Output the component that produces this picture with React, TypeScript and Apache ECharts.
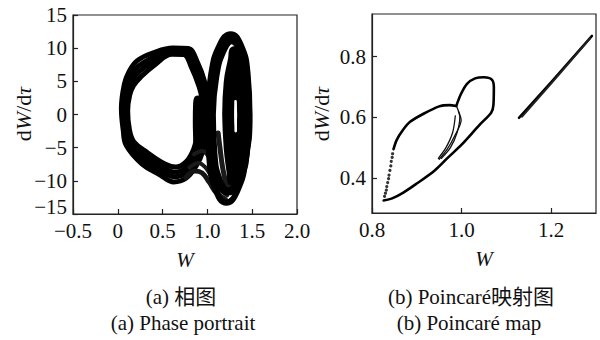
import React, { useEffect, useRef } from 'react';
import * as echarts from 'echarts';

// ---------- (a) Phase portrait: hand-read trajectory bands ----------
const leftTrack1 = [[1.004,2.0],[0.972,4.82],[0.89,7.82],[0.786,9.95],[0.616,10.03],[0.395,9.3],[0.217,8.12],[0.124,6.42],[0.073,4.55],[0.04,0.91],[0.06,-2.3],[0.094,-4.66],[0.268,-7.43],[0.474,-9.13],[0.625,-10.17],[0.76,-9.62],[0.873,-7.78],[0.95,-5.5],[1.0,-2],[1.004,2.0]];
const leftTrack2 = [[0.984,2.0],[0.95,4.6],[0.866,7.6],[0.768,9.64],[0.612,9.7],[0.402,8.68],[0.231,7.28],[0.142,5.72],[0.094,4.0],[0.064,0.8],[0.084,-2.3],[0.124,-4.48],[0.29,-6.86],[0.492,-8.56],[0.632,-9.4],[0.76,-8.78],[0.864,-6.9],[0.93,-4.5],[0.98,-1.2],[0.984,2.0]];
const leftTrack3 = [[0.966,2.0],[0.93,4.4],[0.844,7.4],[0.752,9.36],[0.608,9.4],[0.408,8.12],[0.244,6.52],[0.158,5.08],[0.112,3.5],[0.086,0.7],[0.106,-2.3],[0.151,-4.32],[0.31,-6.34],[0.508,-8.04],[0.638,-8.7],[0.76,-8.02],[0.856,-6.1],[0.91,-3.6],[0.955,-0.5],[0.966,2.0]];
const leftTrack4 = [[0.946,2.0],[0.908,4.18],[0.82,7.18],[0.734,9.05],[0.604,9.07],[0.415,7.5],[0.258,5.68],[0.176,4.38],[0.133,2.95],[0.11,0.59],[0.13,-2.3],[0.181,-4.14],[0.332,-5.77],[0.526,-7.47],[0.645,-7.93],[0.76,-7.18],[0.847,-5.22],[0.89,-2.8],[0.935,0],[0.946,2.0]];
const bumpTrack = [[0.87,-4],[0.865,-1],[0.868,1.5],[0.88,2.45],[0.9,2.5],[0.915,1.5],[0.92,-1],[0.92,-4]];
const fanTrack1 = [[0.76,-9.5],[0.86,-8.5],[0.94,-8.8],[1.02,-10.2],[1.1,-11.8],[1.2,-12.8]];
const fanTrack2 = [[0.8,-8],[0.9,-7.3],[0.98,-8],[1.05,-9.5],[1.13,-11.2],[1.22,-12.2]];
const fanTrack3 = [[0.85,-6],[0.94,-5.5],[1.02,-6.5],[1.09,-8.5],[1.16,-10.3],[1.24,-11.5]];
const fanTrack4 = [[1.12,-2.8],[1.14,-5],[1.17,-8],[1.21,-10.3],[1.26,-11.5]];

const ringA = [[1.0,0],[1.042,6.05],[1.138,10.48],[1.26,12.1],[1.373,10.48],[1.449,6.05],[1.47,0],[1.429,-6.65],[1.333,-11.52],[1.21,-13.3],[1.098,-11.52],[1.022,-6.65],[1.0,0]];
const ringB = [[1.05,0],[1.087,5.6],[1.172,9.7],[1.27,11.2],[1.369,9.7],[1.433,5.6],[1.455,0],[1.423,-5.8],[1.339,-10.05],[1.23,-11.6],[1.132,-10.05],[1.067,-5.8],[1.05,0]];
const ringC = [[1.215,0],[1.232,4.8],[1.28,8.31],[1.3,9.6],[1.39,8.31],[1.426,4.8],[1.44,0],[1.426,-5.05],[1.38,-8.75],[1.28,-10.1],[1.265,-8.75],[1.232,-5.05],[1.215,0]];
const ringD = [[1.225,0],[1.238,4.05],[1.28,7.01],[1.3,8.1],[1.375,7.01],[1.412,4.05],[1.425,0],[1.412,-4.35],[1.375,-7.53],[1.29,-8.7],[1.275,-7.53],[1.238,-4.35],[1.225,0]];
const ringE = [[1.235,0],[1.247,3.3],[1.284,5.72],[1.3,6.6],[1.366,5.72],[1.398,3.3],[1.41,0],[1.398,-3.65],[1.366,-6.32],[1.3,-7.3],[1.279,-6.32],[1.247,-3.65],[1.235,0]];
const ringF = [[1.245,0],[1.255,2.6],[1.288,4.5],[1.305,5.2],[1.3575,4.5],[1.385,2.6],[1.395,0],[1.385,-2.95],[1.3575,-5.11],[1.31,-5.9],[1.2825,-5.11],[1.255,-2.95],[1.245,0]];
const ringG2 = [[1.235,0],[1.246,1.95],[1.275,3.38],[1.315,3.9],[1.355,3.38],[1.384,1.95],[1.395,0],[1.384,-2.2],[1.355,-3.81],[1.315,-4.4],[1.275,-3.81],[1.246,-2.2],[1.235,0]];
const ringG = [[1.272,0],[1.278,1.4],[1.294,2.42],[1.316,2.8],[1.338,2.42],[1.354,1.4],[1.36,0],[1.354,-1.7],[1.338,-2.94],[1.316,-3.4],[1.294,-2.94],[1.278,-1.7],[1.272,0]];
const centreSlit = [[1.314,2.0],[1.316,-2.5]];

// ---------- (b) Poincaré map ----------
const poincareLower = [[0.826,0.326],[0.845,0.333],[0.87,0.352],[0.9,0.382],[0.94,0.425],[0.97,0.468],[1.0,0.51],[1.04,0.575],[1.066,0.615],[1.071,0.64],[1.072,0.7],[1.067,0.725],[1.05,0.732],[1.03,0.728],[1.012,0.71],[0.998,0.675],[0.99,0.645],[0.988,0.637]];
const poincareUpper = [[0.988,0.637],[0.973,0.64],[0.95,0.636],[0.913,0.61],[0.885,0.585],[0.869,0.558],[0.855,0.525],[0.848,0.495]];
const poincareStrand1 = [[0.99,0.632],[0.996,0.6],[0.99,0.55],[0.975,0.5],[0.955,0.465]];
const poincareStrand2 = [[0.993,0.62],[0.999,0.59],[0.985,0.54],[0.968,0.495],[0.95,0.462]];
const poincareStrand3 = [[0.986,0.605],[0.98,0.55],[0.965,0.5],[0.948,0.465]];
const poincareDots = [[0.846,0.48],[0.845,0.468],[0.843,0.455],[0.842,0.44],[0.84,0.425],[0.838,0.41],[0.837,0.398],[0.835,0.385],[0.833,0.372],[0.832,0.36],[0.83,0.35],[0.828,0.34]];
const poincareSegment1 = [[1.128,0.598],[1.2,0.716],[1.291,0.868]];
const poincareSegment2 = [[1.135,0.602],[1.21,0.728],[1.287,0.86]];

const phaseXTicks = [-0.5, 0, 0.5, 1.0, 1.5, 2.0];
const phaseYTicks = [-15, -10, -5, 0, 5, 10, 15];
const mapXTicks = [0.8, 1.0, 1.2];
const mapYTicks = [0.4, 0.6, 0.8];

const captionsTop = ['(a) 相图', '(b) Poincaré映射图'];
const captionsBottom = ['(a) Phase portrait', '(b) Poincaré map'];
const yAxisTitle = '{a|d}{b|W}{a|/d}{b|\u03c4}';

const serif = 'Liberation Serif, Noto Sans CJK SC, serif';
const ink = '#111';

const fmtDec = (v: number) => (v === 0 ? '0' : (v < 0 ? '\u2212' : '') + Math.abs(v).toFixed(1));
const fmtInt = (v: number) => (v < 0 ? '\u2212' : '') + Math.abs(v);

function lineS(data: number[][], width: number, xi: number, color = '#000', smooth: number = 0.4) {
  return {
    type: 'line', xAxisIndex: xi, yAxisIndex: xi, data, symbol: 'none', smooth,
    lineStyle: { color, width, cap: 'round', join: 'round' }, silent: true,
  };
}

export default function App() {
  const ref = useRef<HTMLDivElement>(null);
  useEffect(() => {
    if (!ref.current) return;
    const chart = echarts.init(ref.current, undefined, { renderer: 'svg' });
    const axisLine = { show: true, onZero: false, lineStyle: { color: '#222', width: 1.2 } };
    const tick = { inside: true, length: 5, lineStyle: { color: '#222', width: 1.2 } };
    const lbl = { fontFamily: serif, fontSize: 21, lineHeight: 14, color: ink };
    const nameRich = {
      a: { fontFamily: serif, fontSize: 22, color: ink },
      b: { fontFamily: serif, fontSize: 22, color: ink, fontStyle: 'italic' },
    };
    const capStyle = { font: `21px ${serif}`, fill: ink, align: 'center', textAlign: 'center', verticalAlign: 'middle', textVerticalAlign: 'middle' };
    const option: any = {
      animation: false,
      grid: [
        { left: 73, top: 15, width: 224, height: 199, show: true, borderColor: '#222', borderWidth: 1.2 },
        { left: 372, top: 14, width: 224, height: 199, show: true, borderColor: '#222', borderWidth: 1.2 },
      ],
      xAxis: [
        {
          gridIndex: 0, type: 'value', min: phaseXTicks[0], max: phaseXTicks[phaseXTicks.length - 1], interval: 0.5,
          axisLine, axisTick: tick, splitLine: { show: false },
          axisLabel: { ...lbl, margin: 10, formatter: fmtDec },
          name: 'W', nameLocation: 'middle', nameGap: 35,
          nameTextStyle: { fontFamily: serif, fontSize: 21, fontStyle: 'italic', color: ink },
        },
        {
          gridIndex: 1, type: 'value', min: 0.8, max: 1.3,
          axisLine, axisTick: { ...tick, customValues: mapXTicks }, splitLine: { show: false },
          axisLabel: { ...lbl, margin: 10, formatter: fmtDec, customValues: mapXTicks },
          name: 'W', nameLocation: 'middle', nameGap: 35,
          nameTextStyle: { fontFamily: serif, fontSize: 21, fontStyle: 'italic', color: ink },
        },
      ],
      yAxis: [
        {
          gridIndex: 0, type: 'value', min: phaseYTicks[0], max: phaseYTicks[phaseYTicks.length - 1], interval: 5,
          axisLine, axisTick: tick, splitLine: { show: false },
          axisLabel: { ...lbl, margin: 6, formatter: fmtInt, verticalAlignMinLabel: 'bottom' },
        },
        {
          gridIndex: 1, type: 'value', min: 0.285, max: 0.94,
          axisLine, axisTick: { ...tick, customValues: mapYTicks }, splitLine: { show: false },
          axisLabel: { ...lbl, margin: 6, formatter: (v: number) => v.toFixed(1), customValues: mapYTicks },
        },
      ],
      series: [
        lineS(leftTrack1, 5, 0), lineS(leftTrack2, 5, 0), lineS(leftTrack3, 5, 0), lineS(leftTrack4, 5, 0),
        lineS(bumpTrack, 5, 0),
        lineS(fanTrack1, 5, 0, '#151515'), lineS(fanTrack2, 4, 0, '#1a1a1a'),
        lineS(fanTrack3, 4, 0, '#1a1a1a'), lineS(fanTrack4, 5, 0, '#1a1a1a'),
        lineS(ringA, 6, 0, '#000', 0.5), lineS(ringB, 8, 0, '#000', 0.5), lineS(ringC, 9, 0, '#000', 0.5),
        lineS(ringD, 9, 0, '#000', 0.5), lineS(ringE, 9, 0, '#000', 0.5), lineS(ringF, 9, 0, '#000', 0.5),
        lineS(ringG2, 8, 0, '#000', 0.5), lineS(ringG, 5, 0, '#000', 0.5),
        { ...lineS(centreSlit, 2.6, 0, '#fff', 0), z: 5 },
        lineS(poincareLower, 2.6, 1, '#000', 0.3),
        lineS(poincareUpper, 2.6, 1, '#000', 0.3),
        lineS(poincareStrand1, 1.3, 1, '#111', 0.3),
        lineS(poincareStrand2, 1.3, 1, '#111', 0.3),
        lineS(poincareStrand3, 1.3, 1, '#111', 0.3),
        lineS(poincareSegment1, 2.4, 1, '#000', 0),
        lineS(poincareSegment2, 2.0, 1, '#222', 0),
        {
          type: 'scatter', xAxisIndex: 1, yAxisIndex: 1, data: poincareDots, symbolSize: 3.2,
          itemStyle: { color: '#000' }, silent: true,
        },
      ],
      graphic: [
        ...[23, 321].map((x) => ({
          type: 'text', x, y: 114, rotation: Math.PI / 2,
          style: { text: yAxisTitle, rich: nameRich, fill: ink, align: 'center', textAlign: 'center', verticalAlign: 'middle', textVerticalAlign: 'middle' },
        })),
        ...captionsTop.map((t, i) => ({
          type: 'text', x: i === 0 ? 181 : 471, y: 297, style: { ...capStyle, text: t },
        })),
        ...captionsBottom.map((t, i) => ({
          type: 'text', x: i === 0 ? 183 : 469, y: 323, style: { ...capStyle, text: t },
        })),
      ],
    };
    chart.setOption(option);
    return () => chart.dispose();
  }, []);
  return (
    <div style={{ position: 'absolute', left: 0, top: 0, width: 600, height: 340, background: '#fff' }}>
      <div ref={ref} style={{ width: 600, height: 340 }} />
    </div>
  );
}
